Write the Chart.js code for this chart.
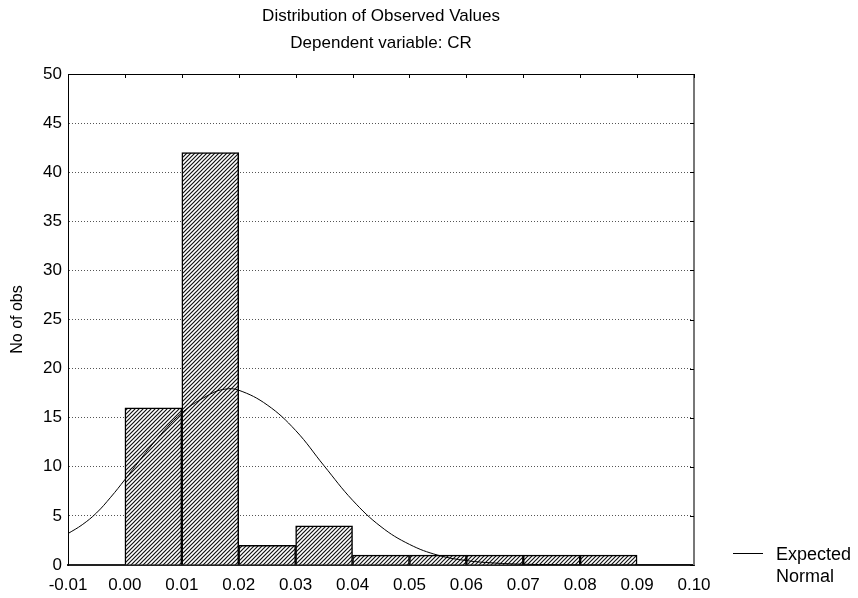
<!DOCTYPE html>
<html>
<head>
<meta charset="utf-8">
<script src="https://cdn.jsdelivr.net/npm/chart.js@4.4.1/dist/chart.umd.min.js"></script>
<style>
  body { margin: 0; background: #fff; }
  #wrap { width: 858px; height: 598px; }
</style>
</head>
<body>
<div id="wrap"><canvas id="chart" width="858" height="598"></canvas></div>
<script>
// histogram bins (centre of each 0.01 wide class) and counts
const binCentres = [0.005, 0.015, 0.025, 0.035, 0.045, 0.055, 0.065, 0.075, 0.085];
const binCounts = [16, 42, 2, 4, 1, 1, 1, 1, 1];

// expected normal curve
const curveX = [-0.01, -0.0075, -0.005, -0.0025, 0.0, 0.005, 0.01, 0.015, 0.0175, 0.02, 0.025, 0.03, 0.035, 0.04, 0.045, 0.05, 0.055, 0.06, 0.065, 0.07, 0.08, 0.09, 0.10];
const curveY = [3.2, 4.1, 5.3, 6.9, 8.7, 12.4, 15.5, 17.4, 17.9, 17.8, 16.3, 13.7, 10.1, 6.6, 3.9, 2.1, 1.0, 0.45, 0.2, 0.08, 0.01, 0, 0];

const xMin = -0.01, xMax = 0.10, xStep = 0.01;
const yMin = 0, yMax = 50, yStep = 5;

const titleLines = ["Distribution of Observed Values", "Dependent variable: CR"];
const legendLines = ["Expected", "Normal"];

const FONT = "'Liberation Sans', Arial, sans-serif";

function hatchPattern() {
  const c = document.createElement("canvas");
  c.width = 4; c.height = 4;
  const g = c.getContext("2d");
  g.fillStyle = "#fff";
  g.fillRect(0, 0, 4, 4);
  g.strokeStyle = "#111";
  g.lineWidth = 1.2;
  g.beginPath();
  g.moveTo(-1, 5); g.lineTo(5, -1);
  g.moveTo(-1, 1); g.lineTo(1, -1);
  g.moveTo(3, 5); g.lineTo(5, 3);
  g.stroke();
  return g.createPattern(c, "repeat");
}

const extras = {
  id: "extras",
  afterDraw(chart) {
    const { ctx, chartArea: a, scales } = chart;
    ctx.save();

    // top and right frame with inward tick marks
    ctx.strokeStyle = "#000";
    ctx.lineWidth = 1;
    ctx.beginPath();
    ctx.moveTo(a.left, a.top + 0.5);
    ctx.lineTo(a.right, a.top + 0.5);
    ctx.stroke();
    ctx.strokeStyle = "#777";
    ctx.lineWidth = 2;
    ctx.beginPath();
    ctx.moveTo(a.right, a.top);
    ctx.lineTo(a.right, a.bottom);
    ctx.stroke();

    ctx.strokeStyle = "#000";
    ctx.lineWidth = 1;
    ctx.beginPath();
    scales.x.ticks.forEach(t => {
      const px = Math.round(scales.x.getPixelForValue(t.value)) + 0.5;
      ctx.moveTo(px, a.top);
      ctx.lineTo(px, a.top + 4);
    });
    scales.y.ticks.forEach(t => {
      const py = Math.round(scales.y.getPixelForValue(t.value)) + 0.5;
      ctx.moveTo(a.right, py);
      ctx.lineTo(a.right - 4, py);
    });
    ctx.stroke();

    // title
    ctx.fillStyle = "#000";
    ctx.font = "17px " + FONT;
    ctx.textAlign = "center";
    ctx.textBaseline = "middle";
    const cx = (a.left + a.right) / 2;
    ctx.fillText(titleLines[0], cx, 16);
    ctx.fillText(titleLines[1], cx, 43);

    // legend
    ctx.beginPath();
    ctx.moveTo(733, 553.5);
    ctx.lineTo(763, 553.5);
    ctx.stroke();
    ctx.font = "18px " + FONT;
    ctx.textAlign = "left";
    ctx.fillText(legendLines[0], 776, 555);
    ctx.fillText(legendLines[1], 776, 577);

    ctx.restore();
  }
};

const ctx = document.getElementById("chart").getContext("2d");

new Chart(ctx, {
  type: "bar",
  data: {
    datasets: [
      {
        type: "line",
        label: "Expected Normal",
        data: curveX.map((x, i) => ({ x: x, y: curveY[i] })),
        borderColor: "#000",
        borderWidth: 1,
        pointRadius: 0,
        fill: false,
        tension: 0.4,
        order: 0
      },
      {
        label: "CR",
        data: binCentres.map((x, i) => ({ x: x, y: binCounts[i] })),
        backgroundColor: hatchPattern(),
        borderColor: "#000",
        borderWidth: 1.5,
        barPercentage: 1,
        categoryPercentage: 1,
        order: 1
      }
    ]
  },
  options: {
    responsive: false,
    animation: false,
    layout: { padding: { top: 74, right: 164, left: 0, bottom: 0 } },
    plugins: {
      legend: { display: false },
      title: { display: false },
      tooltip: { enabled: false }
    },
    scales: {
      x: {
        type: "linear",
        min: xMin,
        max: xMax,
        offset: false,
        afterFit: s => { s.height = 33; },
        ticks: {
          stepSize: xStep,
          color: "#000",
          padding: 10,
          font: { size: 17, family: FONT },
          callback: v => v.toFixed(2)
        },
        grid: { drawOnChartArea: false, drawTicks: false },
        border: { color: "#222", width: 2 }
      },
      y: {
        min: yMin,
        max: yMax,
        afterFit: s => { s.width = 68; },
        ticks: {
          stepSize: yStep,
          color: "#000",
          padding: 6,
          font: { size: 17, family: FONT }
        },
        grid: {
          drawTicks: false,
          color: c => (c.tick && (c.tick.value === yMin || c.tick.value === yMax)) ? "rgba(0,0,0,0)" : "#555",
          lineWidth: 1
        },
        border: { color: "#000", width: 1, dash: [1, 2] },
        title: {
          display: true,
          text: "No of obs",
          color: "#000",
          font: { size: 16, family: FONT },
          padding: { top: 8, bottom: 0 }
        }
      }
    }
  },
  plugins: [extras]
});
</script>
</body>
</html>
